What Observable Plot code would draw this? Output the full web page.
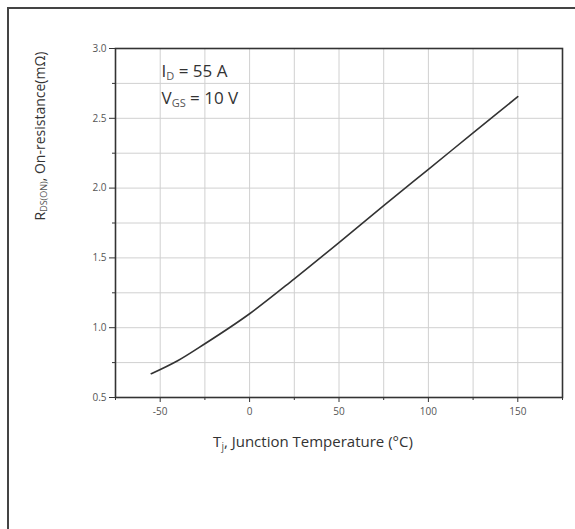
<!DOCTYPE html>
<html><head><meta charset="utf-8">
<script src="https://cdn.jsdelivr.net/npm/d3@7"></script>
<script src="https://cdn.jsdelivr.net/npm/@observablehq/plot@0.6"></script>
<style>
body{margin:0;background:#fff;}
#wrap{position:relative;width:575px;height:529px;overflow:hidden;background:#fff;}
.bt{position:absolute;left:7px;top:7px;width:568px;height:2px;background:#444;}
.bl{position:absolute;left:7px;top:7px;width:2px;height:522px;background:#444;}
#wrap svg{position:absolute;left:0;top:0;}
</style></head><body><div id="wrap"><div class="bt"></div><div class="bl"></div></div>
<script>
const temperature = [-55, -40, -25, 0, 25, 50, 75, 100, 125, 150];
const resistance = [0.67, 0.765, 0.885, 1.10, 1.35, 1.61, 1.875, 2.135, 2.395, 2.655];
const xTicks = [-50, 0, 50, 100, 150];
const xMinor = [-75, -25, 25, 75, 125, 175];
const yTicks = [0.5, 1.0, 1.5, 2.0, 2.5, 3.0];
const yMinor = [0.75, 1.25, 1.75, 2.25, 2.75];
const xGrid = [-50, -25, 0, 25, 50, 75, 100, 125, 150];
const yGrid = [0.75, 1.0, 1.25, 1.5, 1.75, 2.0, 2.25, 2.5, 2.75];

const data = temperature.map((t, i) => ({t, r: resistance[i]}));

const plot = Plot.plot({
  width: 575, height: 529,
  marginLeft: 115, marginRight: 13, marginTop: 48, marginBottom: 132,
  style: {fontFamily: "'Open Sans', sans-serif", fontSize: "10px", color: "#333", background: "transparent", overflow: "visible"},
  x: {domain: [-75, 175]},
  y: {domain: [0.5, 3.0]},
  marks: [
    Plot.ruleX(xGrid, {stroke: "#d0d0d0", strokeWidth: 1}),
    Plot.ruleY(yGrid, {stroke: "#d0d0d0", strokeWidth: 1}),
    Plot.axisX(xMinor, {tickSize: 3, tickFormat: () => "", label: null, stroke: "#333"}),
    Plot.axisX(xTicks, {tickSize: 5, tickPadding: 5, tickFormat: d => String(d), label: null, stroke: "#333", fill: "#555"}),
    Plot.axisY(yMinor, {tickSize: 3, tickFormat: () => "", label: null, stroke: "#333"}),
    Plot.axisY(yTicks, {tickSize: 6, tickPadding: 3, tickFormat: d3.format(".1f"), label: null, stroke: "#333", fill: "#555"}),
    Plot.line(data, {x: "t", y: "r", stroke: "#333", strokeWidth: 1.6, curve: "monotone-x"}),
    Plot.frame({stroke: "#333", strokeWidth: 1.6})
  ]
});
document.getElementById("wrap").appendChild(plot);

const sx = plot.scale("x"), sy = plot.scale("y");
const svg = d3.select(plot);
const font = "'Open Sans', sans-serif";

function subText(g, parts, size, subSize, anchor) {
  const t = g.append("text").attr("font-family", font).attr("font-size", size)
    .attr("fill", "#333").attr("text-anchor", anchor);
  parts.forEach(([s, sub]) => {
    const ts = t.append("tspan").text(s);
    if (sub) ts.attr("font-size", subSize).attr("baseline-shift", "-25%").attr("fill", "#555");
  });
  return t;
}

// y label
const gy = svg.append("g").attr("transform", `translate(45,136) rotate(-90)`);
subText(gy, [["R"], ["DS(ON)", true], [", On-resistance(mΩ)"]], 14, 9, "middle");

// x label
const gx = svg.append("g").attr("transform", `translate(313,447)`);
subText(gx, [["T"], ["j", true], [", Junction Temperature (°C)"]], 15, 10, "middle");

// annotation
const ga = svg.append("g").attr("transform", `translate(${sx.apply(-49)},${sy.apply(2.79)})`);
subText(ga, [["I"], ["D", true], [" = 55 A"]], 17, 11, "start");
const gb = svg.append("g").attr("transform", `translate(${sx.apply(-49)},${sy.apply(2.60)})`);
subText(gb, [["V"], ["GS", true], [" = 10 V"]], 17, 11, "start");
</script>
</body></html>
